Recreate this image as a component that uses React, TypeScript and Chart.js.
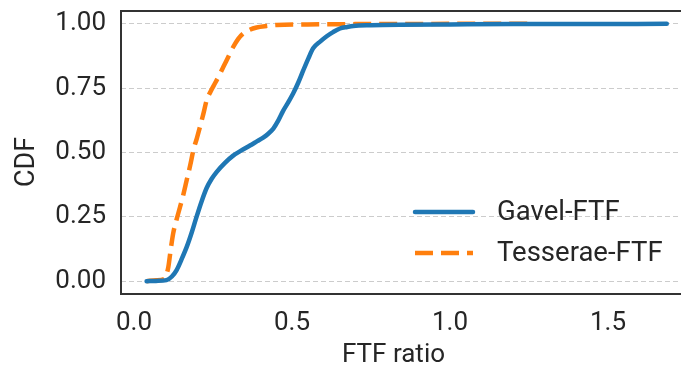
import React, { useEffect, useRef } from "react";
import { Chart, registerables } from "chart.js";

Chart.register(...registerables);

const seriesNames = ["Gavel-FTF", "Tesserae-FTF"];

const gavelX = [0.040, 0.070, 0.103, 0.120, 0.135, 0.150, 0.167, 0.183, 0.198, 0.214, 0.230, 0.246, 0.262, 0.288, 0.314, 0.340, 0.367, 0.390, 0.409, 0.425, 0.441, 0.456, 0.472, 0.488, 0.504, 0.520, 0.536, 0.552, 0.567, 0.590, 0.610, 0.630, 0.652, 0.675, 0.694, 0.750, 0.842, 1.000, 1.200, 1.400, 1.686];
const gavelY = [0, 0.001, 0.004, 0.018, 0.043, 0.083, 0.133, 0.190, 0.250, 0.310, 0.362, 0.398, 0.425, 0.460, 0.488, 0.508, 0.527, 0.544, 0.558, 0.573, 0.593, 0.623, 0.662, 0.695, 0.730, 0.772, 0.820, 0.866, 0.905, 0.932, 0.952, 0.968, 0.982, 0.988, 0.992, 0.995, 0.997, 0.998, 0.999, 0.999, 1.000];

const tesseraeX = [0.040, 0.070, 0.098, 0.104, 0.109, 0.116, 0.124, 0.135, 0.146, 0.157, 0.167, 0.178, 0.188, 0.199, 0.209, 0.220, 0.230, 0.243, 0.256, 0.270, 0.283, 0.298, 0.314, 0.330, 0.346, 0.366, 0.388, 0.420, 0.452, 0.550, 0.700, 1.000, 1.263];
const tesseraeY = [0, 0.003, 0.010, 0.030, 0.056, 0.120, 0.185, 0.240, 0.289, 0.340, 0.393, 0.450, 0.509, 0.555, 0.600, 0.652, 0.703, 0.738, 0.768, 0.800, 0.833, 0.870, 0.910, 0.942, 0.963, 0.977, 0.986, 0.992, 0.996, 0.998, 0.999, 1.000, 1.000];

const xTicks = [0, 0.5, 1.0, 1.5];
const yTicks = [0, 0.25, 0.5, 0.75, 1.0];
const xTitle = "FTF ratio";
const yTitle = "CDF";

const COLORS = ["#1f77b4", "#ff7f0e"];
const FONT = "Roboto, 'DejaVu Sans', sans-serif";
const TEXT = "#262626";

export default function App() {
  const ref = useRef<HTMLCanvasElement>(null);

  useEffect(() => {
    document.body.style.margin = "0";
    const canvas = ref.current!;

    const framePlugin = {
      id: "frame",
      beforeDatasetsDraw(chart: any) {
        const { ctx, chartArea: a } = chart;
        ctx.save();
        ctx.strokeStyle = "#333333";
        ctx.lineWidth = 2;
        ctx.setLineDash([]);
        ctx.beginPath();
        ctx.moveTo(a.right + 5, a.top);
        ctx.lineTo(a.left, a.top);
        ctx.lineTo(a.left, a.bottom);
        ctx.lineTo(a.right + 5, a.bottom);
        ctx.stroke();
        ctx.restore();
      },
    };

    const overlayPlugin = {
      id: "overlay",
      afterDraw(chart: any) {
        const { ctx } = chart;
        ctx.save();
        // legend
        const lx0 = 415, lx1 = 473, tx = 497;
        const rows = [212, 253];
        chart.data.datasets.forEach((ds: any, i: number) => {
          const y = rows[i];
          ctx.beginPath();
          ctx.strokeStyle = ds.borderColor;
          ctx.lineWidth = ds.borderWidth;
          ctx.lineCap = ds.borderCapStyle || "butt";
          ctx.setLineDash(ds.borderDash || []);
          ctx.moveTo(lx0, y);
          ctx.lineTo(lx1, y);
          ctx.stroke();
          ctx.setLineDash([]);
          ctx.fillStyle = TEXT;
          ctx.font = `27.5px ${FONT}`;
          ctx.textAlign = "left";
          ctx.textBaseline = "middle";
          ctx.fillText(ds.label, tx, y + 1);
        });
        // axis titles
        ctx.fillStyle = TEXT;
        ctx.textAlign = "center";
        ctx.textBaseline = "middle";
        ctx.font = `26px ${FONT}`;
        ctx.fillText(xTitle, 393.5, 355);
        ctx.font = `27px ${FONT}`;
        ctx.translate(27, 162);
        ctx.rotate(-Math.PI / 2);
        ctx.fillText(yTitle, 0, 0);
        ctx.restore();
      },
    };

    const chart = new Chart(canvas, {
      type: "line",
      data: {
        datasets: [
          {
            label: seriesNames[0],
            data: gavelX.map((x, i) => ({ x, y: gavelY[i] })),
            borderColor: COLORS[0],
            backgroundColor: COLORS[0],
            borderWidth: 4.5,
            pointRadius: 0,
            cubicInterpolationMode: "monotone",
            borderCapStyle: "round",
            borderJoinStyle: "round",
          },
          {
            label: seriesNames[1],
            data: tesseraeX.map((x, i) => ({ x, y: tesseraeY[i] })),
            borderColor: COLORS[1],
            backgroundColor: COLORS[1],
            borderWidth: 4.5,
            borderDash: [18, 8],
            pointRadius: 0,
            cubicInterpolationMode: "monotone",
            borderCapStyle: "butt",
            borderJoinStyle: "round",
          },
        ],
      } as any,
      options: {
        responsive: false,
        animation: false,
        layout: { padding: { top: 11, right: 0, left: 0, bottom: 0 } },
        scales: {
          x: {
            type: "linear",
            min: -0.041,
            max: 1.731,
            afterBuildTicks: (s: any) => {
              s.ticks = xTicks.map((v) => ({ value: v }));
            },
            afterFit: (s: any) => {
              s.height = 77;
              s.paddingLeft = 0;
              s.paddingRight = 0;
            },
            ticks: {
              callback: (v: any) => Number(v).toFixed(1),
              font: { family: FONT, size: 26 },
              color: TEXT,
              padding: 14,
              maxRotation: 0,
              autoSkip: false,
            },
            grid: { display: false, drawTicks: false },
            border: { display: false },
          },
          y: {
            type: "linear",
            min: -0.05,
            max: 1.05,
            afterBuildTicks: (s: any) => {
              s.ticks = yTicks.map((v) => ({ value: v }));
            },
            afterFit: (s: any) => {
              s.width = 121;
              s.paddingTop = 0;
              s.paddingBottom = 0;
            },
            ticks: {
              callback: (v: any) => Number(v).toFixed(2),
              font: { family: FONT, size: 26 },
              color: TEXT,
              padding: 15,
              autoSkip: false,
            },
            grid: { color: "#cccccc", lineWidth: 1, drawTicks: false },
            border: { display: false, dash: [5, 3] },
          },
        },
        plugins: {
          legend: { display: false },
          tooltip: { enabled: false },
        },
      } as any,
      plugins: [framePlugin, overlayPlugin],
    });

    return () => chart.destroy();
  }, []);

  return <canvas ref={ref} width={681} height={371} style={{ display: "block" }} />;
}
